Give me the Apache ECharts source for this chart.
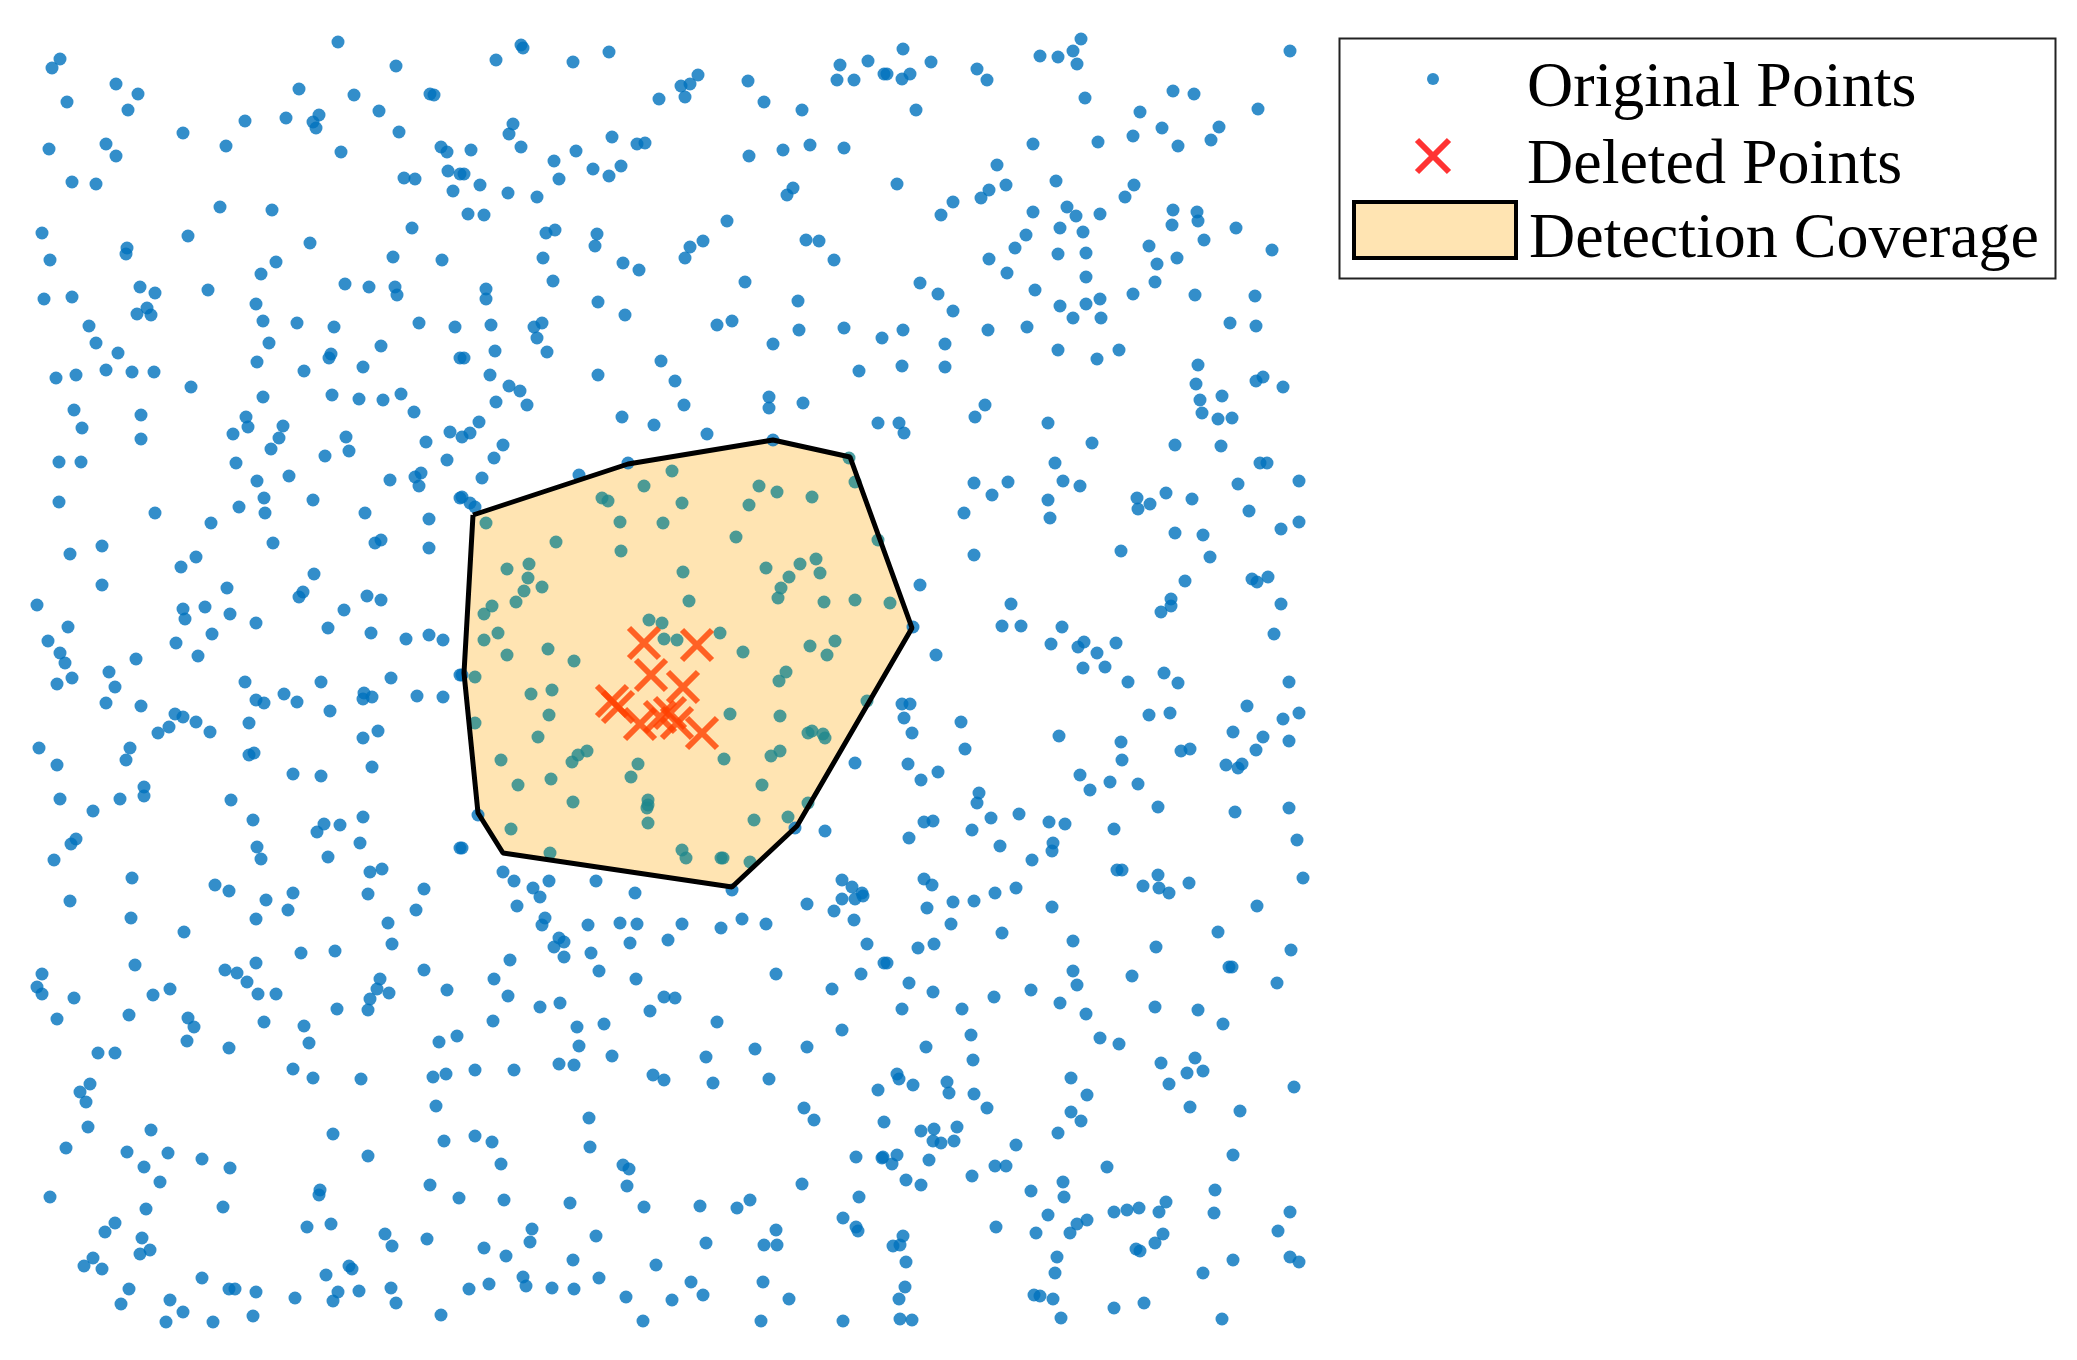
<!DOCTYPE html>
<html>
<head>
<meta charset="utf-8">
<title>Detection Coverage</title>
<script src="https://cdn.jsdelivr.net/npm/echarts@6/dist/echarts.min.js"></script>
<style>
  html, body { margin: 0; padding: 0; background: #fff; }
  #chart { width: 2077px; height: 1360px; }
</style>
</head>
<body>
<div id="chart"></div>
<script>
const originalPoints = [
  [338,42],[60,59],[52,68],[396,66],[116,84],[138,94],[67,102],[299,89],[354,95],[430,94],[434,95],[128,110],[245,121],[286,118],[319,115],[313,122],[316,128],[379,111],[183,133],[399,132],[226,146],[49,149],[106,144],[116,156],[341,152],[441,147],[447,152],[72,182],[96,184],[404,178],[415,179],[448,171],[453,191],[460,174],[220,207],[272,210],[42,233],[188,236],[412,228],[310,243],[127,248],[126,254],[50,260],[393,257],[442,260],[276,262],[261,274],[140,287],[155,293],[208,290],[345,284],[369,287],[395,287],[397,295],[44,299],[72,297],[256,304],[147,308],[137,314],[151,315],[89,326],[263,321],[297,323],[334,327],[419,323],[455,327],[96,343],[269,343],[118,353],[381,346],[331,354],[329,358],[257,362],[363,367],[460,358],[56,378],[76,375],[106,370],[132,372],[154,372],[304,371],[191,387],[263,397],[332,395],[359,399],[383,400],[401,394],[74,410],[141,415],[414,412],[246,417],[248,427],[82,428],[233,434],[283,426],[279,438],[346,437],[141,439],[450,432],[426,442],[271,449],[349,451],[325,456],[59,462],[81,462],[236,463],[447,460],
  [521,45],[523,48],[496,60],[609,52],[573,62],[698,75],[681,86],[690,84],[685,97],[659,99],[748,81],[764,102],[802,110],[840,65],[837,80],[854,80],[868,61],[884,74],[513,124],[509,134],[612,137],[637,144],[645,143],[471,150],[521,147],[576,151],[554,161],[559,179],[593,169],[609,176],[621,166],[464,174],[480,185],[508,193],[537,197],[468,214],[484,215],[749,156],[783,150],[810,145],[844,148],[793,188],[787,195],[727,221],[546,233],[555,230],[597,234],[595,246],[543,258],[703,241],[690,247],[685,258],[806,240],[819,241],[834,260],[623,263],[639,270],[553,281],[745,282],[486,289],[486,299],[598,302],[798,301],[625,315],[491,325],[534,327],[542,323],[537,338],[717,325],[732,321],[799,330],[844,328],[882,338],[773,344],[464,358],[495,351],[547,352],[661,361],[490,375],[598,375],[859,371],[509,386],[520,391],[675,381],[496,402],[527,405],[684,405],[769,397],[769,408],[803,403],[622,417],[654,425],[707,434],[878,423],[479,422],[470,433],[462,437],[503,445],[494,458],[773,440],[849,458],[628,463],
  [903,49],[887,74],[902,79],[910,74],[931,62],[916,110],[977,69],[987,80],[1040,56],[1058,57],[1073,51],[1081,39],[1077,64],[1085,98],[1290,51],[1173,91],[1194,94],[1258,109],[1140,112],[1162,128],[1133,136],[1098,142],[1033,144],[1178,146],[1219,127],[1211,140],[997,165],[897,184],[989,190],[981,198],[1006,185],[1056,181],[1134,185],[1125,197],[953,202],[941,215],[1033,212],[1067,207],[1076,216],[1100,214],[1173,210],[1197,212],[1198,221],[1172,225],[1236,228],[1060,228],[1083,232],[1026,235],[1015,248],[1058,254],[1086,253],[1204,240],[1149,246],[1272,250],[989,259],[1157,264],[1177,258],[1007,273],[1086,277],[1155,282],[920,283],[938,294],[953,311],[1035,290],[1133,294],[1195,295],[1255,296],[1060,306],[1086,304],[1100,299],[1073,318],[1101,318],[1230,323],[1256,326],[903,330],[988,330],[1027,327],[945,344],[945,367],[902,366],[1058,350],[1097,359],[1119,350],[1198,365],[1196,384],[1200,400],[1202,413],[1222,396],[1218,419],[1232,418],[1256,381],[1263,377],[1283,387],[985,405],[975,417],[899,423],[904,433],[1048,423],[1092,443],[1175,445],[1221,446],[1055,463],[1260,463],[1267,463],
  [257,481],[289,476],[390,480],[421,473],[415,477],[419,486],[59,502],[155,513],[239,507],[264,498],[265,513],[313,500],[365,513],[460,498],[211,523],[429,519],[102,546],[70,554],[273,543],[375,543],[381,540],[429,548],[181,567],[196,557],[314,574],[102,585],[227,588],[303,592],[299,597],[37,605],[183,609],[185,619],[205,607],[230,614],[367,596],[381,600],[344,610],[68,627],[256,623],[328,628],[371,633],[212,634],[406,639],[429,635],[443,640],[48,641],[176,643],[60,653],[65,663],[136,659],[198,656],[109,672],[72,678],[57,684],[115,687],[106,703],[141,706],[245,682],[321,682],[391,678],[460,675],[256,700],[264,703],[284,694],[297,702],[330,711],[364,693],[372,697],[363,699],[417,696],[443,697],[175,714],[183,717],[196,722],[210,732],[169,727],[158,733],[249,723],[363,738],[378,731],[39,748],[57,765],[130,748],[126,760],[254,753],[249,755],[372,767],[293,774],[321,776],[60,799],[120,799],[144,787],[144,796],[93,811],[231,800],[253,820],[317,832],[324,824],[340,825],[363,817],[360,843],[76,839],[71,844],[54,860],[257,847],[261,859],[328,857],[370,872],[382,869],[132,878],[215,885],[229,891],[293,893],[424,889],[368,894],[460,848],
  [482,478],[462,497],[470,503],[475,507],[579,475],[462,848],[503,872],[514,881],[533,888],[549,881],[596,881],[635,893],[478,815],[462,675],[855,763],[825,831],[808,803],[795,828],[842,880],[852,887],[862,893],[732,890],[878,540],[855,482],
  [672,471],[644,486],[602,498],[608,501],[682,503],[759,486],[777,492],[812,497],[749,505],[486,523],[620,522],[663,523],[556,542],[736,537],[621,551],[507,569],[529,564],[528,578],[524,591],[542,587],[516,602],[492,606],[484,614],[683,572],[766,568],[800,564],[816,559],[820,573],[789,577],[781,588],[778,598],[689,601],[824,602],[855,600],[649,620],[662,623],[664,639],[677,640],[720,633],[484,640],[498,633],[548,649],[507,655],[574,661],[743,652],[810,646],[835,641],[827,655],[475,677],[786,672],[779,681],[531,694],[552,690],[549,715],[730,714],[780,716],[867,701],[475,723],[538,737],[808,733],[812,731],[823,734],[825,738],[501,760],[587,751],[578,755],[572,762],[638,764],[724,759],[771,756],[780,751],[518,785],[551,779],[631,777],[762,785],[573,802],[648,800],[648,805],[647,808],[648,823],[511,829],[754,820],[788,817],[682,850],[686,858],[721,858],[723,858],[750,862],[550,853],
  [974,483],[992,495],[1008,482],[964,513],[974,555],[1063,481],[1080,486],[1048,500],[1050,518],[1137,498],[1138,509],[1150,504],[1166,493],[1192,499],[1238,484],[1299,481],[1249,511],[1299,522],[1281,529],[1175,533],[1203,535],[1210,557],[1121,551],[1185,581],[1252,579],[1257,582],[1268,577],[1171,599],[1171,606],[1161,612],[1281,604],[1274,634],[920,585],[890,603],[913,627],[1011,604],[1002,626],[1021,626],[1062,627],[1051,644],[1078,647],[1084,642],[1097,653],[1116,643],[1083,668],[1105,667],[1128,682],[1164,673],[1178,683],[1289,682],[936,655],[902,704],[910,704],[904,718],[912,733],[961,722],[965,749],[1059,736],[1149,715],[1170,713],[1247,706],[1283,719],[1299,713],[1233,732],[1263,737],[1256,750],[1289,741],[1121,742],[1122,760],[1181,751],[1190,749],[1226,765],[1238,768],[1242,764],[908,764],[921,780],[938,772],[979,793],[977,803],[1080,775],[1090,790],[1110,782],[1138,784],[1158,807],[1235,812],[1289,808],[924,822],[933,821],[909,838],[991,818],[1019,814],[972,830],[1049,822],[1065,824],[1114,829],[1000,846],[1053,843],[1052,851],[1032,860],[1297,840],[924,879],[932,885],[1016,888],[1117,870],[1122,870],[1158,875],[1189,883],[1143,886],[1159,888],[1169,893],[1303,878],[995,893],
  [70,901],[266,900],[288,910],[131,918],[256,919],[184,932],[416,910],[388,923],[392,944],[301,953],[335,951],[135,965],[256,963],[225,970],[237,973],[247,982],[258,994],[276,994],[42,974],[37,987],[42,994],[74,998],[153,995],[170,989],[424,970],[380,979],[377,989],[370,999],[368,1010],[389,993],[447,990],[337,1009],[57,1019],[129,1015],[188,1018],[194,1027],[187,1041],[264,1022],[304,1026],[309,1043],[229,1048],[98,1053],[115,1053],[439,1042],[457,1036],[293,1069],[313,1078],[361,1079],[433,1077],[446,1074],[90,1084],[80,1092],[86,1102],[436,1106],[88,1127],[151,1130],[333,1134],[444,1141],[66,1148],[127,1152],[168,1153],[202,1159],[368,1156],[144,1167],[230,1168],[160,1182],[430,1185],[50,1197],[320,1190],[319,1195],[459,1198],[146,1209],[223,1207],[115,1223],[105,1232],[307,1227],[331,1224],[142,1238],[150,1250],[140,1254],[385,1234],[392,1246],[427,1239],[93,1258],[84,1266],[102,1269],[349,1266],[352,1269],[326,1275],[202,1278],[129,1289],[121,1304],[229,1289],[235,1289],[256,1292],[295,1298],[338,1292],[333,1301],[359,1291],[391,1288],[396,1303],[170,1300],[183,1312],[166,1322],[213,1322],[253,1316],[441,1315],
  [540,897],[517,906],[842,899],[855,899],[863,896],[834,911],[854,920],[807,904],[545,918],[542,925],[588,925],[620,923],[637,924],[682,924],[721,928],[742,919],[766,924],[559,938],[564,942],[554,947],[564,957],[630,943],[668,940],[591,953],[867,944],[884,963],[510,960],[599,971],[636,979],[776,974],[861,974],[494,979],[832,989],[508,996],[664,997],[675,998],[540,1007],[560,1003],[650,1011],[493,1021],[717,1022],[842,1030],[577,1027],[604,1024],[579,1046],[612,1056],[706,1057],[755,1049],[807,1047],[475,1070],[514,1070],[559,1064],[574,1065],[653,1075],[664,1080],[713,1083],[769,1079],[878,1090],[804,1108],[814,1120],[589,1118],[884,1122],[475,1136],[492,1142],[590,1147],[501,1164],[623,1165],[629,1169],[627,1186],[856,1157],[882,1158],[802,1184],[504,1200],[570,1203],[644,1207],[700,1206],[737,1208],[750,1200],[859,1197],[843,1218],[856,1227],[858,1231],[776,1230],[764,1245],[777,1245],[532,1229],[530,1242],[596,1236],[706,1243],[484,1248],[506,1256],[573,1260],[656,1265],[523,1277],[526,1286],[469,1289],[489,1284],[552,1288],[574,1289],[599,1278],[691,1282],[703,1295],[763,1282],[626,1297],[672,1300],[789,1299],[643,1321],[761,1321],[843,1321],
  [927,908],[953,902],[974,901],[1052,907],[1257,906],[951,924],[1002,933],[1073,941],[1218,932],[1156,947],[1291,950],[918,948],[934,944],[887,963],[1073,971],[1077,985],[1132,976],[1229,967],[1232,967],[1277,983],[909,983],[933,992],[994,997],[1031,990],[1060,1003],[902,1009],[962,1009],[1086,1014],[1155,1007],[1198,1010],[1223,1024],[971,1035],[1100,1038],[1119,1044],[926,1047],[973,1060],[1161,1063],[1195,1058],[1187,1073],[1203,1071],[1169,1084],[1294,1087],[897,1074],[899,1079],[913,1085],[947,1082],[949,1093],[974,1094],[1071,1078],[1087,1095],[987,1108],[1071,1112],[1081,1121],[1190,1107],[1240,1111],[921,1131],[934,1129],[957,1127],[933,1141],[941,1143],[954,1141],[1058,1133],[1016,1145],[883,1157],[897,1155],[892,1164],[929,1160],[1107,1167],[1233,1155],[995,1166],[1006,1166],[906,1180],[921,1185],[972,1176],[1063,1182],[1064,1197],[1031,1191],[1215,1190],[1166,1202],[1159,1212],[1114,1212],[1127,1210],[1139,1208],[1048,1215],[1214,1213],[1290,1212],[1087,1220],[1077,1224],[1070,1233],[996,1227],[1036,1233],[1278,1231],[1163,1234],[1155,1243],[903,1236],[893,1246],[900,1245],[1136,1249],[1140,1251],[1057,1257],[1055,1273],[906,1262],[1233,1260],[1290,1257],[1299,1262],[1203,1273],[905,1287],[899,1299],[1034,1295],[1040,1296],[1053,1299],[1114,1308],[1144,1303],[900,1319],[912,1320],[1061,1318],[1222,1319]
]

const deletedPoints = [
  [644,643],[697,645],[651,675],[683,687],[612,701],[618,707],
  [640,724],[660,717],[670,713],[677,723],[702,733]
]

const coverageVertices = [
  [473,515],[628,464],[773,440],[850,457],[912,628],
  [797,826],[732,887],[503,853],[478,813],[464,673]
]

const seriesNames = ['Original Points', 'Deleted Points', 'Detection Coverage']

const BLUE = '#0072BD'
const TEAL = '#1F878C'   // blue seen through the coverage fill
const RED = '#FF0000'
const RED_UNDER = '#FF4000'
const FILL = '#FFE4B2'
const FONT = 'Liberation Serif'
const X_ICON = 'path://M0,0L10,10M10,0L0,10'

// ray casting, is a point inside the coverage polygon
function inCoverage(p) {
  let inside = false
  for (let i = 0, j = coverageVertices.length - 1; i < coverageVertices.length; j = i++) {
    const [xi, yi] = coverageVertices[i]
    const [xj, yj] = coverageVertices[j]
    if ((yi > p[1]) !== (yj > p[1]) &&
        p[0] < (xj - xi) * (p[1] - yi) / (yj - yi) + xi) {
      inside = !inside
    }
  }
  return inside
}

const chart = echarts.init(document.getElementById('chart'), null, { renderer: 'canvas' })

// one legend per row so each icon can get its own size.
// the legend box is placed by its visible bounds, so `left` is where the icon's edge lands.
// a thin spacer line above the label pushes the words a little below the icon centre
function legendRow(item, left, centerY, iconH, borderWidth) {
  return {
    data: [item],
    left: left,
    top: centerY - 37,
    orient: 'vertical',
    padding: 0,
    itemWidth: 162,
    itemHeight: iconH,
    selectedMode: false,
    itemStyle: { borderWidth: borderWidth },
    formatter: '{s| }\n{t|{name}}',
    textStyle: {
      fontFamily: FONT,
      fontSize: 64,
      color: '#000',
      rich: {
        s: { fontSize: 2, lineHeight: 20 },
        t: { fontFamily: FONT, fontSize: 64, lineHeight: 64, color: '#000', padding: [0, 0, 0, 8] }
      }
    }
  }
}

const option = {
  animation: false,
  backgroundColor: '#fff',
  grid: { left: 20, top: 20, width: 1300, height: 1320 },
  xAxis: { type: 'value', min: 20, max: 1320, show: false },
  yAxis: { type: 'value', min: 20, max: 1340, inverse: true, show: false },
  legend: [
    legendRow({ name: seriesNames[0], icon: 'circle', itemStyle: { color: BLUE, borderWidth: 0 } },
      1427, 83, 12, 0),
    legendRow({ name: seriesNames[1], icon: X_ICON,
      itemStyle: { color: 'none', borderColor: RED, borderWidth: 6 } },
      1414, 160, 32, 6),
    legendRow({ name: seriesNames[2], icon: 'rect',
      itemStyle: { color: FILL, borderColor: '#000', borderWidth: 4 } },
      1352, 234, 56, 4)
  ],
  graphic: [
    {
      type: 'rect',
      left: 1337,
      top: 36,
      shape: { width: 716, height: 240 },
      style: { fill: 'none', stroke: '#222', lineWidth: 2 },
      z: 10
    }
  ],
  series: [
    {
      // coverage fill, below the points
      name: seriesNames[2],
      type: 'custom',
      z: 1,
      silent: true,
      itemStyle: { color: FILL },
      data: coverageVertices,
      renderItem: function (params, api) {
        if (params.dataIndex !== 0) return null
        return {
          type: 'polygon',
          shape: { points: coverageVertices.map(v => api.coord(v)) },
          style: { fill: FILL, stroke: 'none' }
        }
      }
    },
    {
      name: seriesNames[0],
      type: 'scatter',
      z: 2,
      silent: true,
      symbol: 'circle',
      symbolSize: 13,
      itemStyle: {
        color: p => inCoverage(p.value) ? TEAL : BLUE
      },
      data: originalPoints
    },
    {
      name: seriesNames[1],
      type: 'scatter',
      z: 3,
      silent: true,
      symbol: X_ICON,
      symbolSize: 30,
      itemStyle: { color: 'none', borderColor: RED_UNDER, borderWidth: 6 },
      data: deletedPoints
    },
    {
      // polygon outline on top
      type: 'line',
      z: 4,
      silent: true,
      symbol: 'none',
      lineStyle: { color: '#000', width: 5 },
      data: coverageVertices.concat([coverageVertices[0]])
    }
  ]
}

chart.setOption(option)
</script>
</body>
</html>
